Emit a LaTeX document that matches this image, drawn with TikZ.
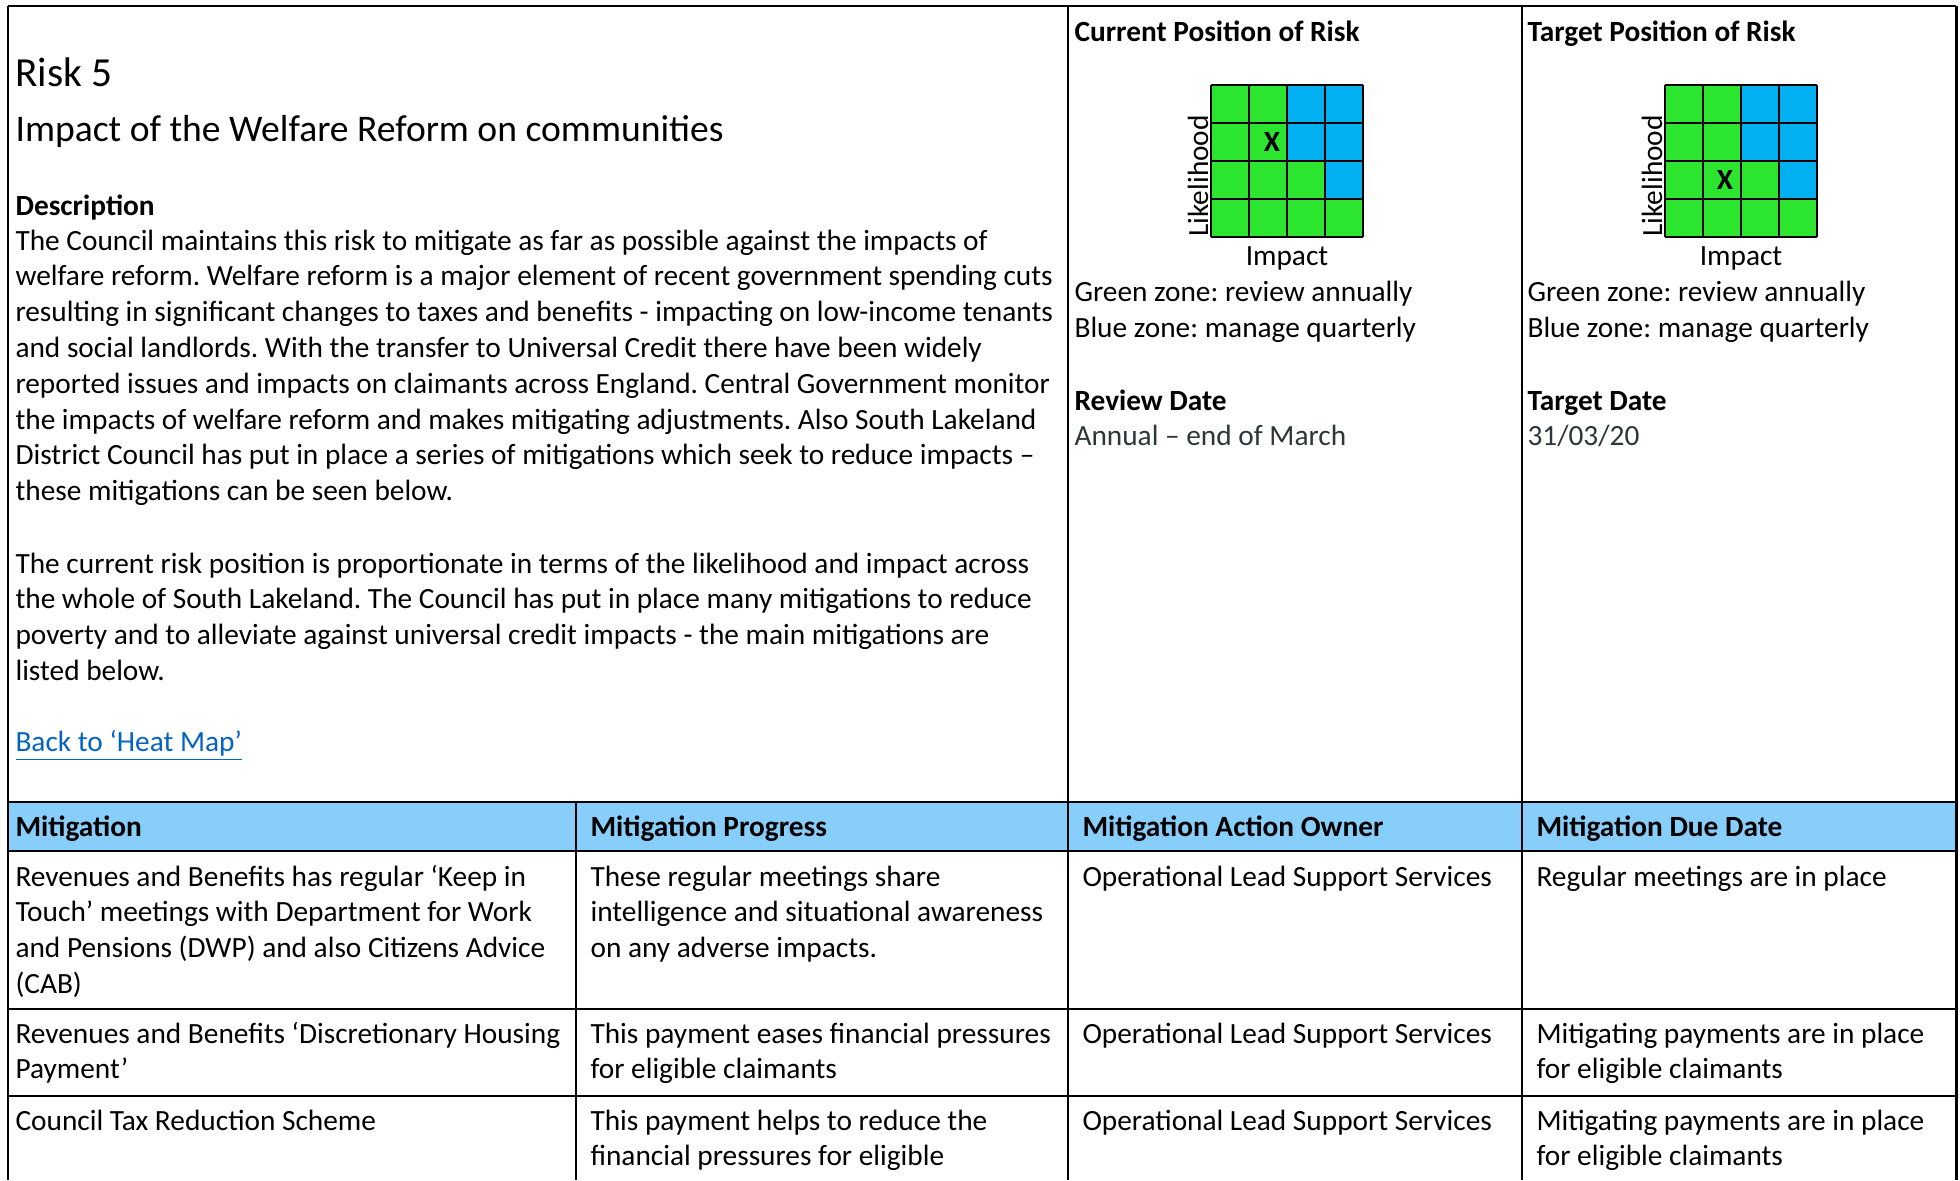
\documentclass[tikz,border=0pt]{standalone}
\usepackage{fontspec}
\setmainfont{Carlito}
\frenchspacing
\definecolor{hgreen}{RGB}{43,229,46}
\definecolor{hblue}{RGB}{0,176,240}
\definecolor{headfill}{RGB}{135,206,250}
\definecolor{linkblue}{RGB}{5,99,193}
\definecolor{dategray}{RGB}{45,55,58}
\newcommand\heatgrid[4]{%
  \fill[hgreen] (#1,85) rectangle ++(152,152);
  \fill[hblue] (#1+76,85) rectangle ++(76,76);
  \fill[hblue] (#1+114,161) rectangle ++(38,38);
  \foreach \k in {0,1,2,3,4} {
    \draw[gridline] (#1+38*\k,85) -- (#1+38*\k,237);
    \draw[gridline] (#1,85+38*\k) -- (#1+152,85+38*\k);
  }
  \node[inner sep=0pt, font=\fontsize{11}{13}\selectfont\bfseries] (#2x) at (#1+#3,#4) {X};
  \node[txt, rotate=90] (#2lik) at (#1-3,237) {Likelihood};
  \node[txt, anchor=base] (#2imp) at (#1+76,265) {Impact};
}
\begin{document}
\begin{tikzpicture}[x=0.375pt,y=-0.375pt,
  txt/.style={inner sep=0pt, anchor=base west, font=\fontsize{11}{13.43}\selectfont},
  para/.style={txt, text width=1300pt, align=left,
    execute at begin node={\spaceskip=0pt\xspaceskip=0pt\relax}},
  boldtxt/.style={txt, font=\fontsize{11}{13.43}\selectfont\bfseries},
  frame/.style={line width=1.1pt},
  inner/.style={line width=0.8pt},
  gridline/.style={line width=0.75pt}]
\useasboundingbox (0,0) rectangle (1960,1180);
\fill[white] (0,0) rectangle (1960,1180);

% header fill
\fill[headfill] (8,802) rectangle (1956,851);

% text left column
\node[txt, font=\fontsize{15.5}{18}\selectfont] (risk) at (15,86) {Risk 5};
\node[txt, font=\fontsize{14.1}{17}\selectfont] (title) at (15,141) {Impact of the Welfare Reform on communities};
\node[boldtxt] (deshead) at (15,215) {Description};
\node[para] (desc1) at (15,250) {The Council maintains this risk to mitigate as far as possible against the impacts of\\
welfare reform. Welfare reform is a major element of recent government spending cuts\\
resulting in significant changes to taxes and benefits - impacting on low-income tenants\\
and social landlords. With the transfer to Universal Credit there have been widely\\
reported issues and impacts on claimants across England. Central Government monitor\\
the impacts of welfare reform and makes mitigating adjustments. Also South Lakeland\\
District Council has put in place a series of mitigations which seek to reduce impacts –\\
these mitigations can be seen below.};
\node[para] (desc2) at (15,573) {The current risk position is proportionate in terms of the likelihood and impact across\\
the whole of South Lakeland. The Council has put in place many mitigations to reduce\\
poverty and to alleviate against universal credit impacts - the main mitigations are\\
listed below.};
\node[txt, text=linkblue] (link) at (15,751) {\underline{Back to ‘Heat Map’}};

% current position column
\node[boldtxt] (curhead) at (1074,41) {Current Position of Risk};
\heatgrid{1211}{cur}{61}{142}
\node[txt] (curg) at (1074,301) {Green zone: review annually};
\node[txt] (curb) at (1074,337) {Blue zone: manage quarterly};
\node[boldtxt] (revhead) at (1074,410) {Review Date};
\node[txt, text=dategray] (revdate) at (1074,445) {Annual – end of March};

% target position column
\node[boldtxt] (tarhead) at (1527,41) {Target Position of Risk};
\heatgrid{1665}{tar}{60}{180}
\node[txt] (targ) at (1527,301) {Green zone: review annually};
\node[txt] (tarb) at (1527,337) {Blue zone: manage quarterly};
\node[boldtxt] (tdhead) at (1527,410) {Target Date};
\node[txt, text=dategray] (tdate) at (1527,445) {31/03/20};

% table header
\node[boldtxt] (h1) at (15,836) {Mitigation};
\node[boldtxt] (h2) at (590,836) {Mitigation Progress};
\node[boldtxt] (h3) at (1082,836) {Mitigation Action Owner};
\node[boldtxt] (h4) at (1536,836) {Mitigation Due Date};

% row 1
\node[para] (r1a) at (15,886) {Revenues and Benefits has regular ‘Keep in\\
Touch’ meetings with Department for Work\\
and Pensions (DWP) and also Citizens Advice\\
(CAB)};
\node[para] (r1b) at (590,886) {These regular meetings share\\
intelligence and situational awareness\\
on any adverse impacts.};
\node[txt] (r1c) at (1082,886) {Operational Lead Support Services};
\node[txt] (r1d) at (1536,886) {Regular meetings are in place};

% row 2
\node[para] (r2a) at (15,1043) {Revenues and Benefits ‘Discretionary Housing\\
Payment’};
\node[para] (r2b) at (590,1043) {This payment eases financial pressures\\
for eligible claimants};
\node[txt] (r2c) at (1082,1043) {Operational Lead Support Services};
\node[para] (r2d) at (1536,1043) {Mitigating payments are in place\\
for eligible claimants};

% row 3
\node[txt] (r3a) at (15,1130) {Council Tax Reduction Scheme};
\node[para] (r3b) at (590,1130) {This payment helps to reduce the\\
financial pressures for eligible};
\node[txt] (r3c) at (1082,1130) {Operational Lead Support Services};
\node[para] (r3d) at (1536,1130) {Mitigating payments are in place\\
for eligible claimants};

% frame lines
\draw[frame] (8,6) -- (1956,6);
\draw[frame] (8,6) -- (8,1180);
\draw[frame] (1956,6) -- (1956,1180);
\draw[frame] (1068,6) -- (1068,1180);
\draw[frame] (1522,6) -- (1522,1180);
\draw[frame] (8,802) -- (1956,802);
\draw[frame] (8,851) -- (1956,851);
\draw[frame] (8,1009) -- (1956,1009);
\draw[frame] (8,1096) -- (1956,1096);
\draw[inner] (576,802) -- (576,1180);
\end{tikzpicture}
\end{document}
